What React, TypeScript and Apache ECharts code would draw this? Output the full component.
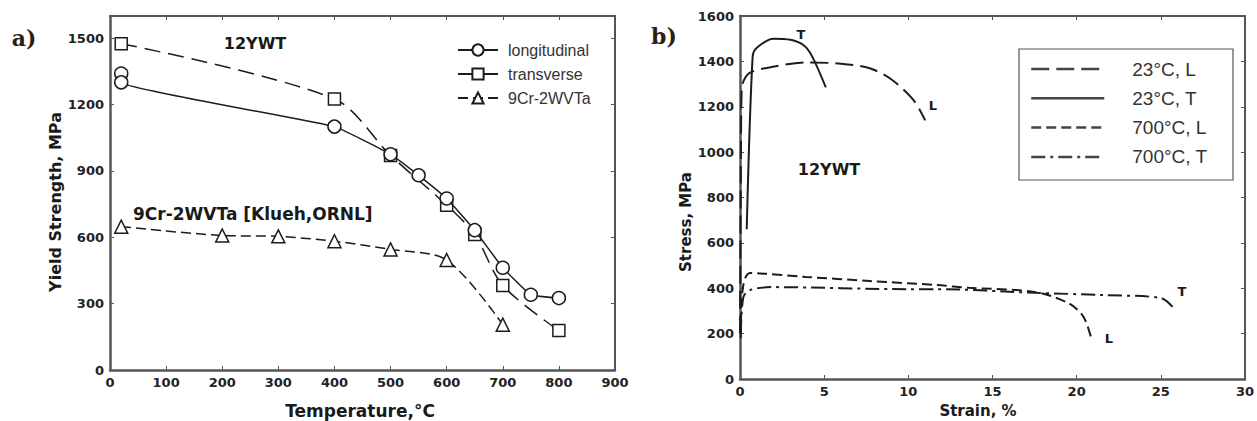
import React, { useEffect, useRef } from "react";
import * as echarts from "echarts";

// ---- Panel a) yield strength vs temperature ----
const longTemp = [20, 20, 400, 500, 550, 600, 650, 700, 750, 800];
const longYS = [1340, 1300, 1100, 975, 880, 775, 632, 462, 340, 325];
const transTemp = [20, 400, 500, 600, 650, 700, 800];
const transYS = [1475, 1225, 970, 745, 612, 382, 178];
const cr9Temp = [20, 200, 300, 400, 500, 600, 700];
const cr9YS = [648, 608, 604, 582, 545, 497, 205];
const leftNames = ["longitudinal", "transverse", "9Cr-2WVTa"];

// ---- Panel b) stress vs strain ----
const l23Strain = [0, 0.05, 0.1, 0.5, 1.5, 4, 6, 7.7, 9, 10.3, 11];
const l23Stress = [200, 900, 1280, 1345, 1370, 1395, 1390, 1370, 1320, 1230, 1140];
const t23Strain = [0.4, 0.75, 1, 2, 3, 3.8, 4.3, 5.1];
const t23Stress = [660, 1420, 1460, 1500, 1495, 1470, 1420, 1285];
const l700Strain = [0.05, 0.1, 0.6, 3.9, 7.7, 11.7, 13.6, 17.5, 19.5, 20.4, 20.9];
const l700Stress = [180, 350, 467, 450, 432, 414, 402, 384, 335, 275, 172];
const t700Strain = [0.05, 0.2, 0.6, 1.9, 10, 11.7, 17.5, 21.5, 25, 25.7];
const t700Stress = [200, 361, 392, 405, 396, 396, 380, 370, 357, 318];
const rightNames = ["23°C, L", "23°C, T", "700°C, L", "700°C, T"];

const zip = (a: number[], b: number[]) => a.map((v, i) => [v, b[i]]);

const INK = "#1c1c1c";
const FRAME = "#555";
const BOLD = { fontFamily: "DejaVu Sans", fontWeight: "bold" as const };

function axis(gridIndex: number, min: number, max: number, interval: number, position: string, labels: boolean, hideMax = false) {
  return {
    type: "value",
    gridIndex,
    min,
    max,
    interval,
    position,
    axisLine: { show: true, onZero: false, lineStyle: { color: FRAME, width: labels ? 2.5 : 2 } },
    axisTick: { show: true, inside: true, length: 4, lineStyle: { color: FRAME, width: 1 } },
    splitLine: { show: false },
    axisLabel: {
      show: labels,
      ...BOLD,
      fontSize: 13,
      color: "#222",
      margin: 6,
      formatter: (v: number) => (hideMax && v === max ? "" : String(v)),
    },
  };
}

function txt(text: string, x: number, y: number, size: number, opts: any = {}) {
  return {
    type: "text",
    x,
    y,
    rotation: opts.rotation || 0,
    style: {
      text,
      fill: opts.fill || "#1a1a1a",
      fontSize: size,
      fontFamily: opts.family || "DejaVu Sans",
      fontWeight: opts.weight || "bold",
      align: opts.align || "center",
      verticalAlign: "middle",
    },
  };
}

export default function App() {
  const ref = useRef<HTMLDivElement>(null);
  useEffect(() => {
    if (!ref.current) return;
    const chart = echarts.init(ref.current, null, { renderer: "svg" });
    const markerStyle = { color: "#fff", borderColor: INK, borderWidth: 1.5 };
    chart.setOption({
      animation: false,
      backgroundColor: "#fff",
      color: [INK],
      grid: [
        { left: 110, top: 16, width: 505, height: 354, show: false },
        { left: 740, top: 16, width: 514, height: 363, show: false },
      ],
      xAxis: [
        axis(0, 0, 900, 100, "bottom", true),
        axis(0, 0, 900, 100, "top", false),
        axis(1, 0, 30, 5, "bottom", true),
        axis(1, 0, 30, 5, "top", false),
      ],
      yAxis: [
        axis(0, 0, 1600, 300, "left", true, true),
        axis(0, 0, 1600, 300, "right", false),
        axis(1, 0, 1600, 200, "left", true),
        axis(1, 0, 1600, 200, "right", false),
      ],
      legend: [
        {
          data: leftNames,
          orient: "vertical",
          left: 457,
          top: 42,
          padding: 0,
          itemWidth: 40,
          itemHeight: 14,
          itemGap: 8,
          textStyle: { fontFamily: "Liberation Sans", fontSize: 16, color: "#333", lineHeight: 16, padding: [0, 0, 0, 5] },
        },
        {
          data: rightNames,
          orient: "vertical",
          left: 1030,
          top: 59,
          padding: 0,
          itemWidth: 73,
          itemHeight: 20,
          itemGap: 9.3,
          itemStyle: { opacity: 0, borderWidth: 0 },
          lineStyle: { color: "#444", width: 2.5 },
          textStyle: { fontFamily: "Liberation Sans", fontSize: 19, color: "#333", lineHeight: 20, padding: [0, 0, 0, 23] },
        },
      ],
      series: [
        {
          name: leftNames[0],
          type: "line",
          xAxisIndex: 0,
          yAxisIndex: 0,
          data: zip(longTemp, longYS),
          smooth: 0.1,
          symbol: "circle",
          symbolSize: 13,
          itemStyle: markerStyle,
          lineStyle: { color: INK, width: 1.5, type: "solid" },
          z: 3,
        },
        {
          name: leftNames[1],
          type: "line",
          xAxisIndex: 0,
          yAxisIndex: 0,
          data: zip(transTemp, transYS),
          smooth: 0.3,
          symbol: "rect",
          symbolSize: 12,
          itemStyle: markerStyle,
          lineStyle: { color: INK, width: 1.5, type: [16, 8] },
          z: 2,
        },
        {
          name: leftNames[2],
          type: "line",
          xAxisIndex: 0,
          yAxisIndex: 0,
          data: zip(cr9Temp, cr9YS),
          smooth: 0.3,
          symbol: "triangle",
          symbolSize: 13,
          itemStyle: markerStyle,
          lineStyle: { color: INK, width: 1.5, type: [10, 5] },
        },
        {
          name: rightNames[0],
          type: "line",
          xAxisIndex: 2,
          yAxisIndex: 2,
          data: zip(l23Strain, l23Stress),
          smooth: 0.3,
          symbol: "none",
          itemStyle: { color: INK },
          lineStyle: { color: INK, width: 2, type: [18, 7] },
        },
        {
          name: rightNames[1],
          type: "line",
          xAxisIndex: 2,
          yAxisIndex: 2,
          data: zip(t23Strain, t23Stress),
          smooth: 0.3,
          symbol: "none",
          itemStyle: { color: INK },
          lineStyle: { color: INK, width: 2, type: "solid" },
        },
        {
          name: rightNames[2],
          type: "line",
          xAxisIndex: 2,
          yAxisIndex: 2,
          data: zip(l700Strain, l700Stress),
          smooth: 0.3,
          symbol: "none",
          itemStyle: { color: INK },
          lineStyle: { color: INK, width: 2, type: [10, 5] },
        },
        {
          name: rightNames[3],
          type: "line",
          xAxisIndex: 2,
          yAxisIndex: 2,
          data: zip(t700Strain, t700Stress),
          smooth: 0.3,
          symbol: "none",
          itemStyle: { color: INK },
          lineStyle: { color: INK, width: 2, type: [14, 5, 3, 5] },
        },
      ],
      graphic: [
        txt("a)", 24, 38, 22, { family: "DejaVu Serif", fill: "#2a1f14" }),
        txt("b)", 664, 36, 22, { family: "DejaVu Serif", fill: "#2a1f14" }),
        txt("12YWT", 255, 43, 16),
        txt("9Cr-2WVTa [Klueh,ORNL]", 133, 214, 17, { align: "left" }),
        txt("12YWT", 829, 169, 16),
        txt("T", 801, 34, 13),
        txt("L", 933, 105, 13),
        txt("T", 1182, 291, 13),
        txt("L", 1109, 338, 13),
        txt("Yield Strength, MPa", 55, 202, 16, { rotation: Math.PI / 2 }),
        txt("Temperature,°C", 360, 411, 17),
        txt("Stress, MPa", 686, 222, 15, { rotation: Math.PI / 2 }),
        txt("Strain, %", 978, 411, 15),
        {
          type: "rect",
          shape: { x: 1019, y: 49, width: 214, height: 131 },
          style: { fill: "none", stroke: "#555", lineWidth: 1.2 },
        },
      ],
    });
    return () => chart.dispose();
  }, []);
  return <div ref={ref} style={{ position: "fixed", left: 0, top: 0, width: 1257, height: 421 }} />;
}
